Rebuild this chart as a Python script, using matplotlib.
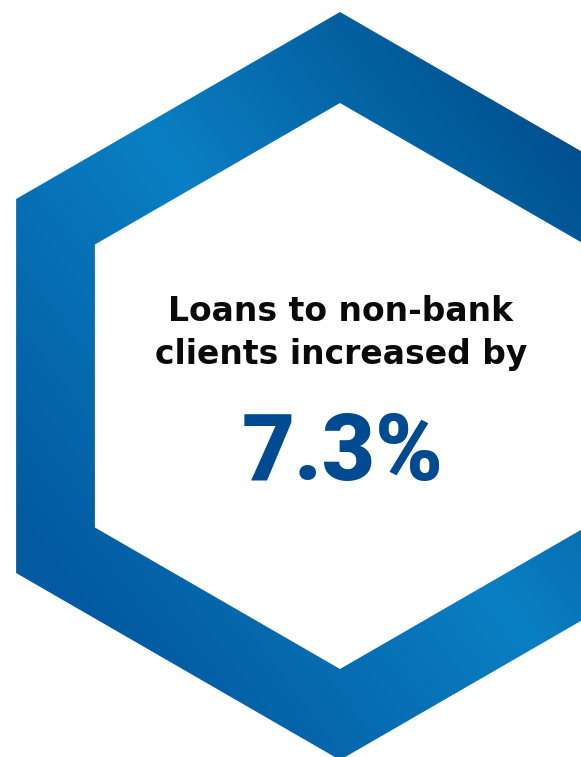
import numpy as np
import matplotlib
matplotlib.use("Agg")
import matplotlib.pyplot as plt
from matplotlib.path import Path
from matplotlib.patches import PathPatch
from matplotlib.colors import LinearSegmentedColormap

# headline text and the figure it reports
headline = ["Loans to non-bank", "clients increased by"]
growth_pct = 7.3

W, H = 581, 757
fig = plt.figure(figsize=(W / 100, H / 100), dpi=100)
ax = fig.add_axes([0, 0, 1, 1])
ax.set_xlim(0, W)
ax.set_ylim(H, 0)
ax.axis("off")


def hexagon(cx, cy, r):
    # pointy-top hexagon, vertices clockwise from the top
    ang = np.deg2rad(np.arange(-90, 270, 60))
    return np.column_stack([cx + r * np.cos(ang), cy + r * np.sin(ang)])


cx, cy = 340, 386
outer = hexagon(cx, cy, 374)
inner = hexagon(cx, cy, 283)[::-1]
verts = np.vstack([outer, outer[:1], inner, inner[:1]])
codes = ([Path.MOVETO] + [Path.LINETO] * 5 + [Path.CLOSEPOLY]) * 2
ring = Path(verts, codes)

# blue ring: light band running top-left to bottom-right, darker at the other corners
blues = LinearSegmentedColormap.from_list(
    "ring", [(0.0, "#035aa0"), (0.5, "#0a7fc3"), (1.0, "#004f8d")])
xx, yy = np.meshgrid(np.arange(0, 700), np.arange(0, 800))
t = 0.8 * (xx - cx) - 0.6 * (yy - cy)
img = ax.imshow(np.clip(t, -340, 340), cmap=blues, vmin=-340, vmax=340,
                extent=[0, 700, 800, 0], interpolation="bilinear", zorder=1)
patch = PathPatch(ring, facecolor="none", edgecolor="none")
ax.add_patch(patch)
img.set_clip_path(patch)
ax.set_xlim(0, W)
ax.set_ylim(H, 0)

ax.text(340, 321, headline[0], fontsize=23.8, fontweight="bold", family="DejaVu Sans",
        color="#0a0a0a", ha="center", va="baseline", zorder=3)
ax.text(341, 364, headline[1], fontsize=23.8, fontweight="bold", family="DejaVu Sans",
        color="#0a0a0a", ha="center", va="baseline", zorder=3)
ax.text(343, 480, f"{growth_pct}%", fontsize=66, fontweight=900, family="Roboto",
        color="#004a92", ha="center", va="baseline", zorder=3)

fig.savefig("out.png", dpi=100)
